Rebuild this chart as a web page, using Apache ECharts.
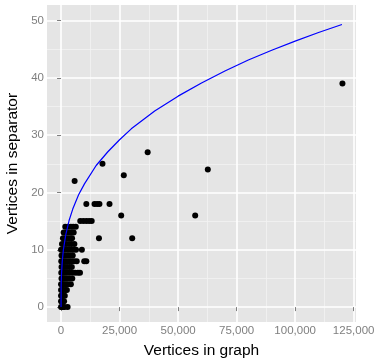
<!DOCTYPE html>
<html>
<head>
<meta charset="utf-8">
<script src="https://cdn.jsdelivr.net/npm/echarts@6/dist/echarts.min.js"></script>
<style>
  html, body { margin: 0; padding: 0; background: #fff; }
  #chart { width: 378px; height: 360px; }
</style>
</head>
<body>
<div id="chart"></div>
<script>
// graph size (vertices) and separator size
let graphSize = [
    0, 300, 800, 1500, 2800,
    0, 300, 700, 1300,
    0, 400, 900, 1600,
    0, 400, 1000, 1800, 2500,
    0, 500, 1200, 2100, 3000, 4200,
    200, 800, 1500, 2500, 3600, 4800,
    100, 700, 1500, 2400, 3500, 4700, 6000, 7200, 8100,
    200, 900, 1700, 2600, 3600, 4600,
    100, 800, 1600, 2500, 3500, 4500, 5600, 6700, 9900, 10800,
    200, 900, 1800, 2900, 3900, 5000,
    0, 600, 1500, 2500, 3400, 4400, 5300, 6400, 8900,
    400, 1200, 2200, 3400, 4500, 5700,
    800, 1800, 2800, 3900, 4700, 16200, 30400,
    1100, 2200, 3300, 4400, 5400,
    1800, 3000, 4200, 5200, 6300,
    8200, 9500, 10800, 12000, 13100,
    25700, 57300,
    10800, 14300, 15400, 16400, 20700,
    5800, 26800, 62700, 17700, 37000, 120200
];
let separatorSize = [
    0, 0, 0, 0, 0,
    1, 1, 1, 1,
    2, 2, 2, 2,
    3, 3, 3, 3, 3,
    4, 4, 4, 4, 4, 4,
    5, 5, 5, 5, 5, 5,
    6, 6, 6, 6, 6, 6, 6, 6, 6,
    7, 7, 7, 7, 7, 7,
    8, 8, 8, 8, 8, 8, 8, 8, 8, 8,
    9, 9, 9, 9, 9, 9,
    10, 10, 10, 10, 10, 10, 10, 10, 10,
    11, 11, 11, 11, 11, 11,
    12, 12, 12, 12, 12, 12, 12,
    13, 13, 13, 13, 13,
    14, 14, 14, 14, 14,
    15, 15, 15, 15, 15,
    16, 16,
    18, 18, 18, 18, 18,
    22, 23, 24, 25, 27, 39
];

// blue reference curve
let curveX = [0, 50, 200, 500, 1000, 2000, 3500, 5000, 7500, 10000, 15000, 20000, 25000,
    30000, 40000, 50000, 60000, 70000, 80000, 90000, 100000, 110000, 120000];
let curveY = [0, 3.7, 5.8, 7.9, 10, 12.6, 15.2, 17.1, 19.6, 21.5, 24.7, 27.1, 29.2,
    31.1, 34.2, 36.8, 39.1, 41.2, 43.1, 44.8, 46.4, 47.9, 49.3];

// tick labels
let xTicks = [0, 25000, 50000, 75000, 100000, 125000];
let xMinor = [12500, 37500, 62500, 87500, 112500];
let yTicks = [0, 10, 20, 30, 40, 50];
let yMinor = [5, 15, 25, 35, 45];

let points = graphSize.map((x, i) => [x, separatorSize[i]]);
let curve = curveX.map((x, i) => [x, curveY[i]]);

let font = '"Liberation Sans", Arial, sans-serif';
let xMin = -6000, xMax = 126000, yMin = -2.6, yMax = 52.7;

// two axes per direction: a bare one for the minor grid lines, then the real one
function axis(pos, ticks, minor, min, max) {
    let base = {
        type: 'value',
        position: pos,
        min: min,
        max: max,
        axisLine: {show: false}
    };
    return [
        Object.assign({}, base, {
            z: 1,
            axisTick: {show: false, customValues: minor},
            axisLabel: {show: false, customValues: minor},
            splitLine: {show: true, lineStyle: {color: '#f2f2f2', width: 0.8}}
        }),
        Object.assign({}, base, {
            z: 2,
            axisTick: {show: true, customValues: ticks, length: 4, lineStyle: {color: '#7f7f7f', width: 1}},
            axisLabel: {
                customValues: ticks,
                color: '#7f7f7f',
                fontFamily: font,
                fontSize: 11.5,
                margin: 3,
                formatter: v => v.toLocaleString('en-US')
            },
            splitLine: {show: true, lineStyle: {color: '#ffffff', width: 1.6}}
        })
    ];
}

let xAxes = axis('bottom', xTicks, xMinor, xMin, xMax);
xAxes[1].name = 'Vertices in graph';
xAxes[1].nameLocation = 'middle';
xAxes[1].nameGap = 21;
xAxes[1].nameTextStyle = {color: '#000', fontFamily: font, fontSize: 15.5};

let yAxes = axis('left', yTicks, yMinor, yMin, yMax);
yAxes[1].name = 'Vertices in separator';
yAxes[1].nameLocation = 'middle';
yAxes[1].nameGap = 26;
yAxes[1].nameTextStyle = {color: '#000', fontFamily: font, fontSize: 15.5};

let myChart = echarts.init(document.getElementById('chart'), null, {renderer: 'canvas'});

myChart.setOption({
    animation: false,
    grid: {
        left: 47,
        right: 22,
        top: 5,
        bottom: 38,
        outerBoundsMode: 'none',
        containLabel: false,
        show: true,
        backgroundColor: '#e5e5e5',
        borderWidth: 0
    },
    xAxis: xAxes,
    yAxis: yAxes,
    series: [
        {
            type: 'scatter',
            xAxisIndex: 1,
            yAxisIndex: 1,
            data: points,
            symbolSize: 6,
            itemStyle: {color: '#000', opacity: 1},
            z: 3
        },
        {
            type: 'line',
            xAxisIndex: 1,
            yAxisIndex: 1,
            data: curve,
            showSymbol: false,
            smooth: false,
            lineStyle: {color: '#0000ff', width: 1.2},
            z: 4
        }
    ]
});
</script>
</body>
</html>
